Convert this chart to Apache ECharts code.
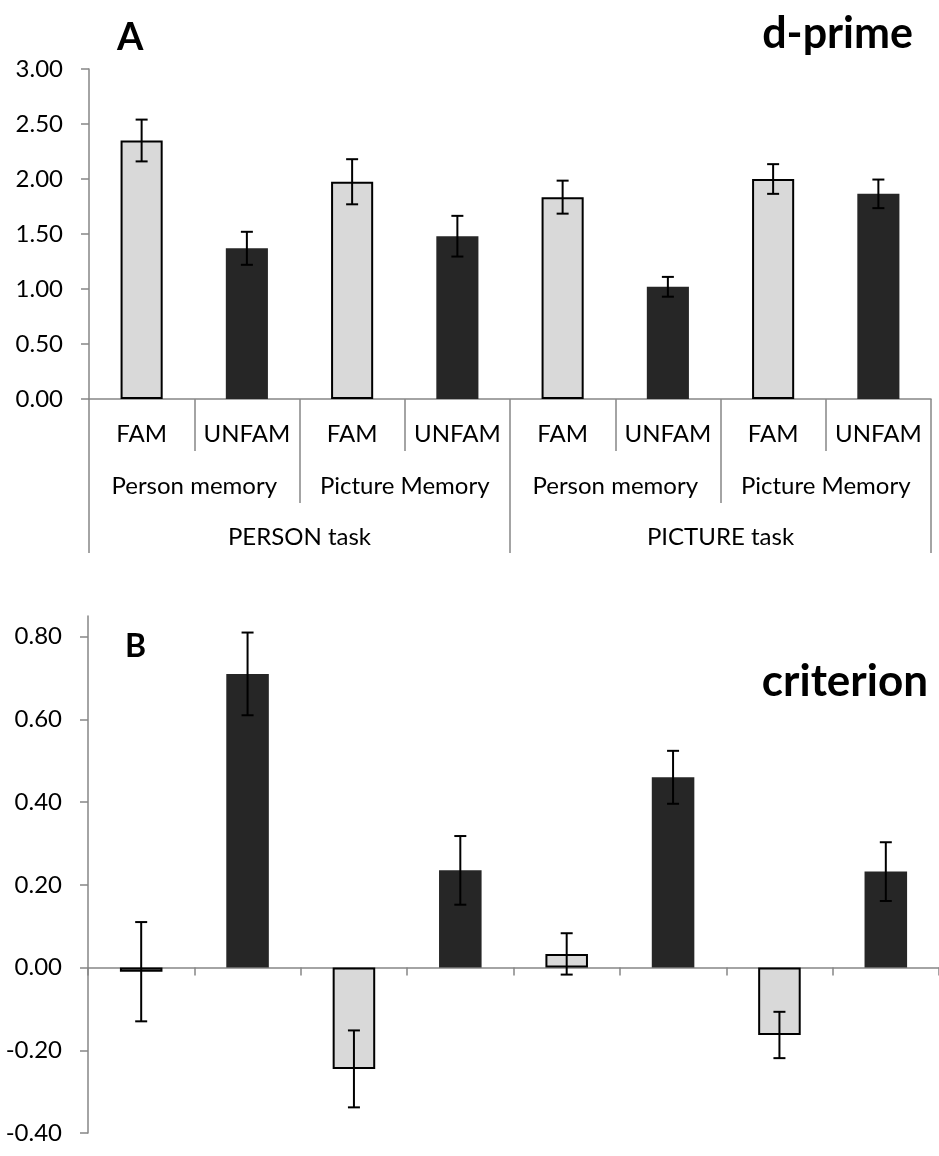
<!DOCTYPE html>
<html>
<head>
<meta charset="utf-8">
<script src="https://cdn.jsdelivr.net/npm/echarts@6/dist/echarts.min.js"></script>
<style>
  html, body { margin: 0; padding: 0; background: #fff; }
  #chart { width: 939px; height: 1156px; }
</style>
</head>
<body>
<div id="chart"></div>
<script>
// data
const conditions = ['FAM', 'UNFAM', 'FAM', 'UNFAM', 'FAM', 'UNFAM', 'FAM', 'UNFAM'];
const memoryTypes = ['Person memory', 'Picture Memory', 'Person memory', 'Picture Memory'];
const tasks = ['PERSON task', 'PICTURE task'];

const dprime = [2.35, 1.37, 1.975, 1.48, 1.835, 1.02, 2.0, 1.865];
const dprimeErr = [0.19, 0.15, 0.205, 0.185, 0.15, 0.09, 0.135, 0.13];

const criterion = [-0.01, 0.71, -0.245, 0.235, 0.033, 0.46, -0.163, 0.232];
const criterionErr = [0.12, 0.10, 0.093, 0.083, 0.05, 0.064, 0.056, 0.071];

const FONT = 'Lato';
const AXIS_GRAY = '#868686';
const LIGHT = '#d9d9d9';
const DARK = '#262626';

function barData(values) {
  return values.map((v, i) => ({
    value: v,
    itemStyle: conditions[i] === 'FAM'
      ? { color: LIGHT, borderColor: '#000', borderWidth: 2 }
      : { color: DARK, borderWidth: 0 }
  }));
}

function errData(values, errs) {
  return values.map((v, i) => [i, v - errs[i], v + errs[i]]);
}

function renderErr(params, api) {
  const x = api.value(0);
  const lo = api.coord([x, api.value(1)]);
  const hi = api.coord([x, api.value(2)]);
  const half = 6;
  const style = { stroke: '#000', lineWidth: 2 };
  return {
    type: 'group',
    children: [
      { type: 'line', shape: { x1: hi[0], y1: hi[1], x2: lo[0], y2: lo[1] }, style },
      { type: 'line', shape: { x1: hi[0] - half, y1: hi[1], x2: hi[0] + half, y2: hi[1] }, style },
      { type: 'line', shape: { x1: lo[0] - half, y1: lo[1], x2: lo[0] + half, y2: lo[1] }, style }
    ]
  };
}

const yLabel = { color: '#000', fontFamily: FONT, fontSize: 24, margin: 26 };
const catLabel = { color: '#000', fontFamily: FONT, fontSize: 24, verticalAlign: 'middle' };

function levelAxis(data, tickLen, labelMargin) {
  return {
    type: 'category',
    gridIndex: 0,
    position: 'bottom',
    data: data,
    axisLine: { show: false },
    axisTick: { show: true, length: tickLen, lineStyle: { color: AXIS_GRAY, width: 1.5 } },
    axisLabel: Object.assign({ margin: labelMargin, interval: 0 }, catLabel),
    splitLine: { show: false }
  };
}

const chart = echarts.init(document.getElementById('chart'), null, { renderer: 'canvas' });

chart.setOption({
  animation: false,
  backgroundColor: '#fff',
  title: [
    { text: 'A', left: 112, top: 14, textStyle: { fontFamily: FONT, fontWeight: 'bold', fontSize: 38, color: '#000' } },
    { text: 'd-prime', right: 21, top: 8, textStyle: { fontFamily: FONT, fontWeight: 'bold', fontSize: 43, color: '#000' } },
    { text: 'B', left: 120, top: 626, textStyle: { fontFamily: FONT, fontWeight: 'bold', fontSize: 32, color: '#000' } },
    { text: 'criterion', right: 6, top: 655, textStyle: { fontFamily: FONT, fontWeight: 'bold', fontSize: 44, color: '#000' } }
  ],
  grid: [
    { left: 89, right: 8, top: 69, height: 330 },
    { left: 88, width: 853, top: 616, height: 517 }
  ],
  xAxis: [
    {
      type: 'category',
      gridIndex: 0,
      data: conditions,
      axisLine: { show: true, lineStyle: { color: AXIS_GRAY, width: 1.5 } },
      axisTick: { show: true, length: 52, lineStyle: { color: AXIS_GRAY, width: 1.5 } },
      axisLabel: Object.assign({ margin: 35, interval: 0 }, catLabel),
      splitLine: { show: false }
    },
    levelAxis(memoryTypes, 104, 87),
    levelAxis(tasks, 154, 138),
    {
      type: 'category',
      gridIndex: 1,
      data: conditions,
      axisLine: { show: true, onZero: true, lineStyle: { color: AXIS_GRAY, width: 1.5 } },
      axisTick: { show: true, length: 8, lineStyle: { color: AXIS_GRAY, width: 1.5 } },
      axisLabel: { show: false },
      splitLine: { show: false }
    }
  ],
  yAxis: [
    {
      type: 'value',
      gridIndex: 0,
      min: 0,
      max: 3,
      interval: 0.5,
      axisLine: { show: true, lineStyle: { color: AXIS_GRAY, width: 1.5 } },
      axisTick: { show: true, inside: false, length: 8, lineStyle: { color: AXIS_GRAY, width: 1.5 } },
      axisLabel: Object.assign({ formatter: v => v.toFixed(2) }, yLabel),
      splitLine: { show: false }
    },
    {
      type: 'value',
      gridIndex: 1,
      min: -0.4,
      max: 0.85,
      interval: 0.2,
      axisLine: { show: true, lineStyle: { color: AXIS_GRAY, width: 1.5 } },
      axisTick: { show: true, inside: false, length: 8, lineStyle: { color: AXIS_GRAY, width: 1.5 } },
      axisLabel: Object.assign({
        showMaxLabel: false,
        formatter: v => (Math.abs(v * 5 - Math.round(v * 5)) < 1e-6 ? v.toFixed(2) : '')
      }, yLabel),
      splitLine: { show: false }
    }
  ],
  series: [
    {
      type: 'bar',
      xAxisIndex: 0,
      yAxisIndex: 0,
      barWidth: '40%',
      data: barData(dprime)
    },
    {
      type: 'custom',
      xAxisIndex: 0,
      yAxisIndex: 0,
      renderItem: renderErr,
      data: errData(dprime, dprimeErr),
      z: 5
    },
    {
      type: 'bar',
      xAxisIndex: 3,
      yAxisIndex: 1,
      barWidth: '40%',
      data: barData(criterion)
    },
    {
      type: 'custom',
      xAxisIndex: 3,
      yAxisIndex: 1,
      renderItem: renderErr,
      data: errData(criterion, criterionErr),
      z: 5
    }
  ]
});
</script>
</body>
</html>
